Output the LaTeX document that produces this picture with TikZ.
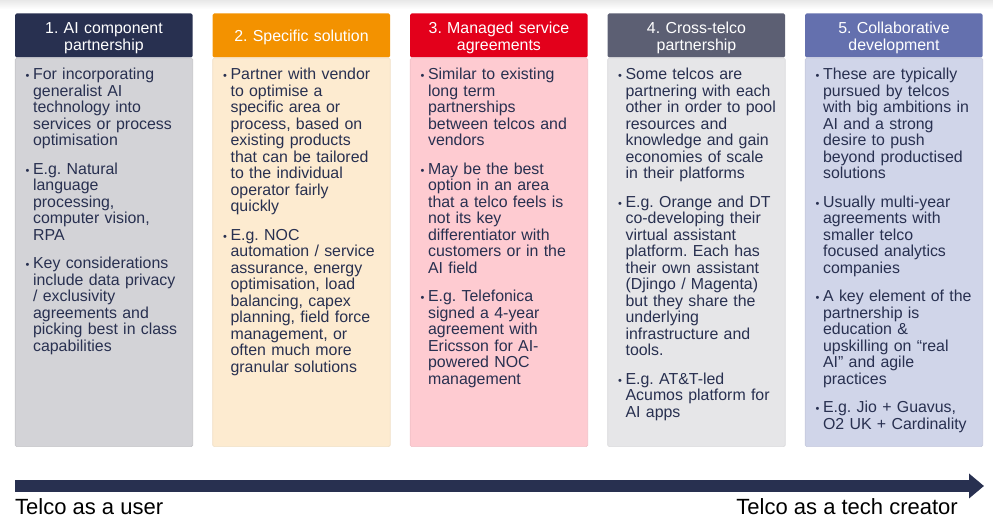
\documentclass[tikz,border=0pt]{standalone}
\usepackage{fontspec}
\setmainfont{Liberation Sans}
\usetikzlibrary{arrows.meta,positioning}
\frenchspacing

\definecolor{hdrA}{HTML}{283050}
\definecolor{hdrB}{HTML}{F39200}
\definecolor{hdrC}{HTML}{E3001B}
\definecolor{hdrD}{HTML}{5C5F73}
\definecolor{hdrE}{HTML}{6470AE}
\definecolor{bodyA}{HTML}{D3D3D7}
\definecolor{bodyB}{HTML}{FDEBD0}
\definecolor{bodyC}{HTML}{FECBD1}
\definecolor{bodyD}{HTML}{E6E6E8}
\definecolor{bodyE}{HTML}{D0D5E9}
\definecolor{inktext}{HTML}{283050}

% one bullet point with hanging indent
\newcommand{\bpt}[1]{\par\hangindent=7.5pt\hangafter=1\noindent\makebox[7.5pt][l]{\strut\fontsize{11}{11}\selectfont\textbullet}#1\par}
\newcommand{\bsep}{\vspace{12pt}}

\begin{document}
\begin{tikzpicture}[
  x=1pt, y=1pt,
  every node/.style={inner sep=0pt, font=\fontsize{15.9}{16.5}\selectfont},
  header/.style={rectangle, rounded corners=1.5pt, minimum width=177.5pt, minimum height=44pt, anchor=north west},
  body/.style={rectangle, rounded corners=1.5pt, minimum width=177.5pt, minimum height=388.7pt, line width=0.6pt},
  hdrlabel/.style={text width=175pt, align=center, text=white},
  bodytext/.style={text width=170pt, align=left, text=inktext},
  timeline/.style={line width=12pt, draw=hdrA, -{Triangle[length=15pt,width=24pt]}},
  endlabel/.style={font=\fontsize{22}{24}\selectfont, text=black}
]
\useasboundingbox (0,0) rectangle (993,532);
\shade[top color=black!9, bottom color=white] (0,532) rectangle (993,523);

% --- HEADERS ---
\node[header, fill=hdrA] (hdr1) at (15, 518.7) {};
\node[header, fill=hdrB] (hdr2) at (212.5, 518.7) {};
\node[header, fill=hdrC] (hdr3) at (410, 518.7) {};
\node[header, fill=hdrD] (hdr4) at (607.5, 518.7) {};
\node[header, fill=hdrE] (hdr5) at (805, 518.7) {};

\node[hdrlabel, below=8.6pt of hdr1.north] (lab1) {\strut 1. AI component\\partnership};
\node[hdrlabel, below=16.3pt of hdr2.north] (lab2) {\strut 2. Specific solution};
\node[hdrlabel, below=8.6pt of hdr3.north] (lab3) {\strut 3. Managed service\\agreements};
\node[hdrlabel, below=8.6pt of hdr4.north] (lab4) {\strut 4. Cross-telco\\partnership};
\node[hdrlabel, below=8.6pt of hdr5.north] (lab5) {\strut 5. Collaborative\\development};

% --- BODIES ---
\node[body, fill=bodyA, draw=bodyA!93!black, below=0pt of hdr1] (body1) {};
\node[body, fill=bodyB, draw=bodyB!95!black, below=0pt of hdr2] (body2) {};
\node[body, fill=bodyC, draw=bodyC!95!black, below=0pt of hdr3] (body3) {};
\node[body, fill=bodyD, draw=bodyD!95!black, below=0pt of hdr4] (body4) {};
\node[body, fill=bodyE, draw=bodyE!95!black, below=0pt of hdr5] (body5) {};

\node[bodytext, below right=5.6pt and 10.5pt of body1.north west] (txt1) {%
\bpt{For incorporating\newline generalist AI\newline technology into\newline services or process\newline optimisation}\bsep
\bpt{E.g. Natural\newline language\newline processing,\newline computer vision,\newline RPA}\bsep
\bpt{Key considerations\newline include data privacy\newline / exclusivity\newline agreements and\newline picking best in class\newline capabilities}};

\node[bodytext, below right=5.6pt and 10.5pt of body2.north west] (txt2) {%
\bpt{Partner with vendor\newline to optimise a\newline specific area or\newline process, based on\newline existing products\newline that can be tailored\newline to the individual\newline operator fairly\newline quickly}\bsep
\bpt{E.g. NOC\newline automation / service\newline assurance, energy\newline optimisation, load\newline balancing, capex\newline planning, field force\newline management, or\newline often much more\newline granular solutions}};

\node[bodytext, below right=5.6pt and 10.5pt of body3.north west] (txt3) {%
\bpt{Similar to existing\newline long term\newline partnerships\newline between telcos and\newline vendors}\bsep
\bpt{May be the best\newline option in an area\newline that a telco feels is\newline not its key\newline differentiator with\newline customers or in the\newline AI field}\bsep
\bpt{E.g. Telefonica\newline signed a 4-year\newline agreement with\newline Ericsson for AI-\newline powered NOC\newline management}};

\node[bodytext, below right=5.6pt and 10.5pt of body4.north west] (txt4) {%
\bpt{Some telcos are\newline partnering with each\newline other in order to pool\newline resources and\newline knowledge and gain\newline economies of scale\newline in their platforms}\bsep
\bpt{E.g. Orange and DT\newline co-developing their\newline virtual assistant\newline platform. Each has\newline their own assistant\newline (Djingo / Magenta)\newline but they share the\newline underlying\newline infrastructure and\newline tools.}\bsep
\bpt{E.g. AT\&T-led\newline Acumos platform for\newline AI apps}};

\node[bodytext, below right=5.6pt and 10.5pt of body5.north west] (txt5) {%
\bpt{These are typically\newline pursued by telcos\newline with big ambitions in\newline AI and a strong\newline desire to push\newline beyond productised\newline solutions}\bsep
\bpt{Usually multi-year\newline agreements with\newline smaller telco\newline focused analytics\newline companies}\bsep
\bpt{A key element of the\newline partnership is\newline education \&\newline upskilling on “real\newline AI” and agile\newline practices}\bsep
\bpt{E.g. Jio + Guavus,\newline O2 UK + Cardinality}};

% --- TIMELINE ---
\coordinate (tstart) at (15, 46);
\coordinate (tend) at (984, 46);
\draw[timeline] (tstart) -- (tend);

\node[endlabel, anchor=base west] (user) at (15, 17.5) {Telco as a user};
\node[endlabel, anchor=base east] (creator) at (958, 17.5) {Telco as a tech creator};

\end{tikzpicture}
\end{document}
